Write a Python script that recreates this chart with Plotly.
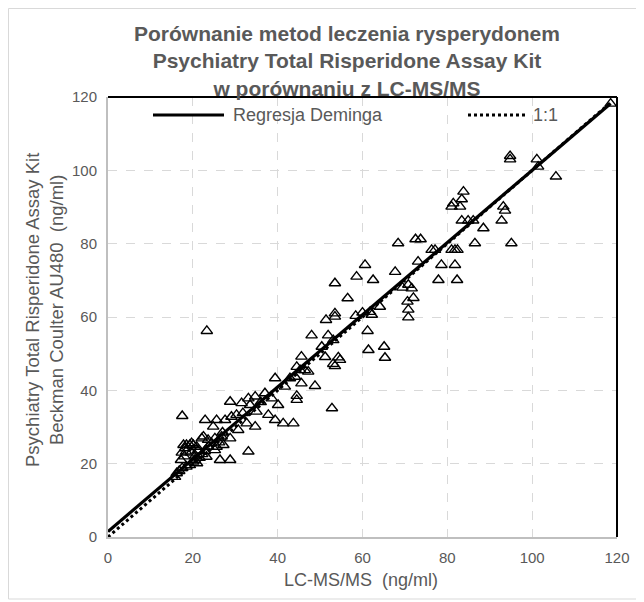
import plotly.graph_objects as go

# ---- data ----
lcms = [15.8, 16.2, 16.8, 17.5, 18.5, 19.3, 20.1, 21.0, 20.5, 17.2, 18.0, 17.4, 18.4, 19.6, 20.6, 21.6,
        17.8, 18.5, 19.3, 20.1, 20.9, 18.2, 19.7, 21.2, 22.2, 17.5, 23.3,
        22.1, 22.5, 23.6, 25.2, 26.8, 28.8, 27.2, 25.6, 23.6, 24.4, 26.2, 23.2, 25.2, 26.4, 28.8, 22.8,
        22.9, 25.6, 27.6, 24.8, 29.1, 30.3, 30.7, 32.7, 34.7, 33.1, 28.8, 31.5, 33.1, 34.7, 33.5, 35.0,
        37.0, 38.6, 40.1, 37.8, 39.4, 41.3, 43.7, 39.4, 42.9, 45.6, 41.7, 48.8, 44.5, 44.5, 27.0, 31.8, 36.0,
        45.6, 44.5, 45.3, 46.4, 47.2, 44.1, 48.0, 51.9, 53.1, 50.4, 51.2, 54.3, 54.7, 53.1, 53.5, 52.8,
        53.5, 56.5, 53.5, 53.5, 51.4, 58.4, 60.0, 61.8, 62.2, 64.1, 61.2, 61.4, 65.1, 65.3, 58.6, 62.5, 60.6, 67.7,
        68.4, 72.5, 73.7, 73.1, 70.8, 71.6, 69.4, 70.6, 72.0, 70.8, 70.8, 76.3, 77.1, 78.6, 81.8, 77.9, 82.3,
        81.0, 81.8, 82.4, 86.5, 95.1, 88.5, 83.4, 84.9, 86.1, 92.8, 93.2, 93.6, 81.4, 81.0, 83.0, 83.4, 83.8,
        94.8, 94.8, 101.1, 101.4, 105.6, 118.5]
kit = [16.4, 17.4, 18.0, 18.8, 19.2, 19.6, 20.6, 20.1, 21.0, 21.0, 22.0, 23.0, 23.3, 23.0, 22.2, 21.6,
       25.1, 25.1, 25.1, 25.1, 24.6, 24.2, 25.6, 23.6, 22.6, 33.0, 56.2,
       26.9, 27.4, 26.5, 26.9, 27.4, 26.9, 25.1, 24.6, 24.6, 25.6, 25.8, 21.9, 23.7, 21.0, 21.0, 23.4,
       31.9, 31.9, 31.9, 30.1, 32.8, 33.3, 29.2, 31.0, 30.1, 23.3, 36.9, 36.5, 37.8, 38.3, 36.0, 34.2,
       39.2, 37.8, 36.0, 33.3, 31.9, 31.0, 31.0, 43.3, 43.3, 41.9, 41.0, 41.2, 38.5, 37.4, 28.5, 33.8, 36.8,
       49.2, 46.4, 45.5, 45.5, 45.1, 43.7, 55.0, 55.0, 53.7, 51.9, 49.1, 49.0, 48.3, 47.2, 46.6, 35.1,
       69.2, 65.1, 61.0, 60.1, 59.2, 60.3, 61.2, 61.4, 60.6, 62.8, 56.2, 51.0, 51.9, 48.9, 71.0, 70.1, 74.2, 72.3,
       80.1, 81.2, 81.2, 75.1, 68.8, 67.8, 68.0, 64.2, 65.2, 62.0, 59.9, 78.3, 78.3, 74.2, 74.2, 70.1, 70.1,
       78.3, 78.3, 78.3, 80.1, 80.1, 84.2, 86.3, 86.3, 86.3, 86.3, 90.1, 89.0, 91.0, 90.1, 90.1, 92.1, 94.2,
       103.9, 103.0, 103.0, 101.0, 98.3, 118.2]

deming_slope = 0.985
deming_intercept = 1.5
line_x = [0, max(lcms)]

title_lines = ["Porównanie metod leczenia rysperydonem",
               "Psychiatry Total Risperidone Assay Kit",
               "w porównaniu z LC-MS/MS"]
x_title = "LC-MS/MS  (ng/ml)"
y_title_lines = ["Psychiatry Total Risperidone Assay Kit", "Beckman Coulter AU480  (ng/ml)"]
tick_vals = [0, 20, 40, 60, 80, 100, 120]
legend_names = ["Regresja Deminga", "1:1"]

GRAY = "#595959"
FONT = "Liberation Sans, Arial, sans-serif"

# page body has an 8px margin: figure is sized to fill the rest of the window
W, H = 636, 594
L, R, T, B = 100, 27, 89, 65
pw, ph = W - L - R, H - T - B
OFF = 8


def px(xr):
    """reference-pixel x -> paper x"""
    return (xr - OFF - L) / pw


def py(yr):
    """reference-pixel y -> paper y"""
    return (H - B - (yr - OFF)) / ph


fig = go.Figure()
fig.add_trace(go.Scatter(
    x=lcms, y=kit, mode="markers", showlegend=False, name="Próbki",
    marker=dict(symbol="triangle-up-open", size=10, color="black", line=dict(width=1.4, color="black")),
))
fig.add_trace(go.Scatter(
    x=line_x, y=[deming_intercept + deming_slope * v for v in line_x],
    mode="lines", name=legend_names[0], showlegend=False, line=dict(color="black", width=3.2),
))
fig.add_trace(go.Scatter(
    x=line_x, y=line_x,
    mode="lines", name=legend_names[1], showlegend=False, line=dict(color="black", width=3, dash="dot"),
))

axis_common = dict(range=[0, 120], tickvals=tick_vals, showgrid=True, gridcolor="#d9d9d9", griddash="dash",
                   gridwidth=1.3, zeroline=False, showline=True, linecolor="#bfbfbf", linewidth=2, ticks="",
                   tickfont=dict(size=15, color=GRAY, family=FONT), automargin=False, ticklabelstandoff=6)

fig.update_layout(
    width=W, height=H,
    margin=dict(l=L, r=R, t=T, b=B, autoexpand=False),
    paper_bgcolor="white", plot_bgcolor="white",
    font=dict(family=FONT, color=GRAY, size=15),
    showlegend=False,
    xaxis=axis_common,
    yaxis=axis_common,
)

ann = []
ann.append(dict(text="<br>".join(title_lines), xref="paper", yref="paper", x=px(347), y=py(61),
                xanchor="center", yanchor="middle", showarrow=False,
                font=dict(family=FONT, size=21, color=GRAY, weight="bold")))
ann.append(dict(text=x_title, xref="paper", yref="paper", x=px(361), y=py(580),
                xanchor="center", yanchor="middle", showarrow=False,
                font=dict(family=FONT, size=18, color=GRAY)))
ann.append(dict(text="<br>".join(y_title_lines), xref="paper", yref="paper", x=px(44), y=py(310),
                xanchor="center", yanchor="middle", showarrow=False, textangle=-90,
                font=dict(family=FONT, size=18.5, color=GRAY)))
# legend (drawn inside plot area like the original)
ann.append(dict(text=legend_names[0], xref="paper", yref="paper", x=px(231), y=py(115),
                xanchor="left", yanchor="middle", showarrow=False, font=dict(family=FONT, size=18, color=GRAY)))
ann.append(dict(text=legend_names[1], xref="paper", yref="paper", x=px(531), y=py(115),
                xanchor="left", yanchor="middle", showarrow=False, font=dict(family=FONT, size=18, color=GRAY)))
fig.update_layout(annotations=ann)

shapes = [
    # legend samples
    dict(type="line", xref="paper", yref="paper", x0=px(153), x1=px(224), y0=py(115), y1=py(115),
         line=dict(color="black", width=3.2)),
    dict(type="line", xref="paper", yref="paper", x0=px(468), x1=px(527), y0=py(115), y1=py(115),
         line=dict(color="black", width=3, dash="dot")),
    # plot-area border top / right
    dict(type="line", xref="x domain", yref="y domain", x0=0, x1=1, y0=1, y1=1,
         line=dict(color="black", width=2)),
    dict(type="line", xref="x domain", yref="y domain", x0=1, x1=1, y0=0, y1=1,
         line=dict(color="black", width=2)),
    # outer chart border
    dict(type="rect", xref="paper", yref="paper", x0=px(8.5), x1=px(638), y0=py(599), y1=py(8.5),
         line=dict(color="#d9d9d9", width=1), layer="below"),
]
fig.update_layout(shapes=shapes)

fig.write_html("out.html")
